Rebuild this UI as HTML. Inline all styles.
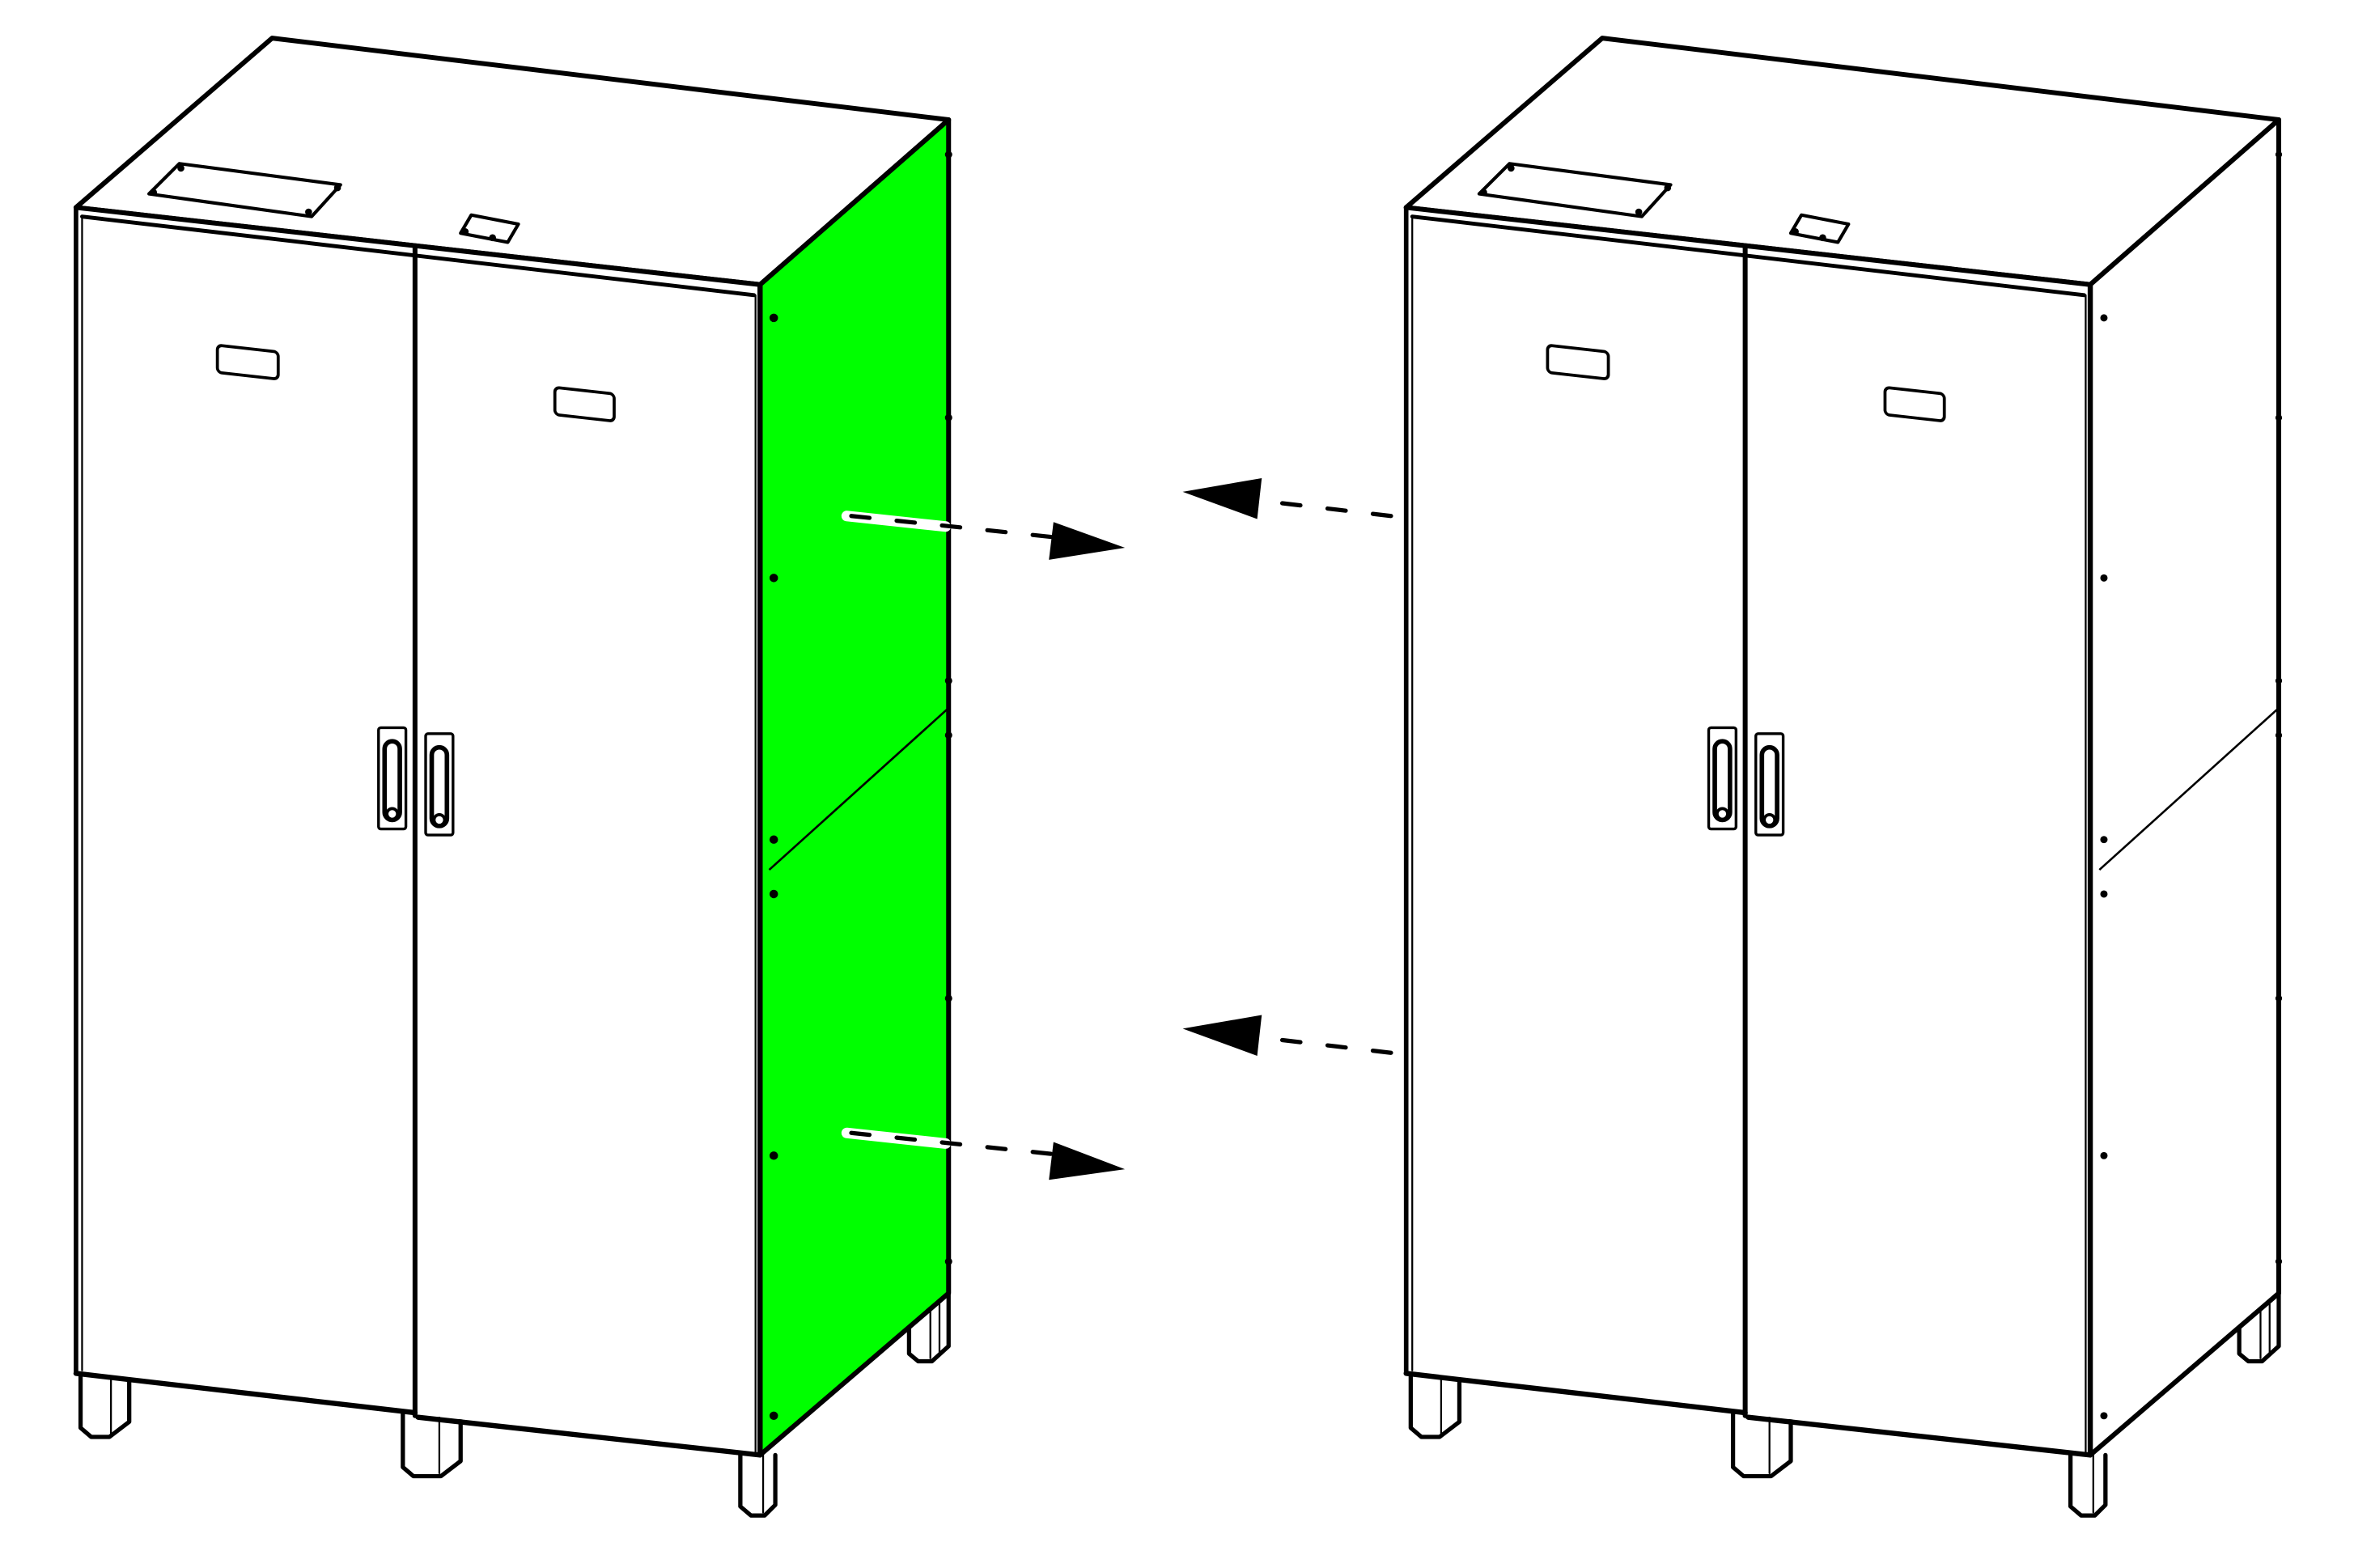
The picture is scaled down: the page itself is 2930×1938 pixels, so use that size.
<!DOCTYPE html>
<html><head><meta charset="utf-8"><style>html,body{margin:0;padding:0;background:#fff}svg{display:block}</style></head>
<body>
<svg width="2930" height="1938" viewBox="0 0 1555 1028.6" preserveAspectRatio="none" xmlns="http://www.w3.org/2000/svg">
<defs>
<g id="cab" stroke="#000" stroke-linejoin="round" stroke-linecap="round">
  <g fill="#fff" stroke-width="2.8">
    <path d="M598,862 V895 L604,900 H613 L624,890 V855"/>
    <line x1="612" y1="866" x2="612" y2="898" stroke-width="1.2"/>
    <line x1="618" y1="862" x2="618" y2="894" stroke-width="1.2"/>
    <path d="M53,908 V944 L60,950 H72 L85,940 V912"/>
    <line x1="73" y1="912" x2="73" y2="948" stroke-width="1.2"/>
    <path d="M265,934 V970 L272,976 H290 L303,966 V937"/>
    <line x1="289" y1="937" x2="289" y2="974" stroke-width="1.2"/>
    <path d="M487,960 V996 L494,1002 H503 L510,995 V962"/>
    <line x1="502" y1="962" x2="502" y2="1000" stroke-width="1.2"/>
  </g>
  <polygon points="179,25 624,79 500,188 50,137" fill="#fff" stroke-width="3.2"/>
  <polygon points="118,108 224,122 205,143 98,128" fill="#fff" stroke-width="2.2"/>
  <circle cx="119" cy="111" r="2.3" fill="#000" stroke="none"/>
  <circle cx="222" cy="124" r="2.3" fill="#000" stroke="none"/>
  <circle cx="203" cy="140" r="2.3" fill="#000" stroke="none"/>
  <circle cx="101" cy="127" r="2.3" fill="#000" stroke="none"/>
  <polygon points="310,142 341,148 334,160 303,154" fill="#fff" stroke-width="2.2"/>
  <circle cx="306" cy="153" r="2.3" fill="#000" stroke="none"/>
  <circle cx="324" cy="157" r="2.3" fill="#000" stroke="none"/>
  <polygon points="50,137 500,188 500,962 50,908" fill="#fff" stroke="none"/>
  <line x1="50" y1="137" x2="50" y2="908" stroke-width="3"/>
  <line x1="54" y1="143" x2="54" y2="906" stroke-width="1.2"/>
  <line x1="50" y1="137" x2="500" y2="188" stroke-width="3.2"/>
  <line x1="54" y1="143" x2="496" y2="195" stroke-width="2.6"/>
  <line x1="497" y1="195" x2="497" y2="960" stroke-width="1.2"/>
  <line x1="500" y1="188" x2="500" y2="962" stroke-width="3"/>
  <line x1="273" y1="163" x2="273" y2="936" stroke-width="3.2"/>
  <polyline points="50,908 273,934" fill="none" stroke-width="3.4"/>
  <polyline points="275,937 500,962" fill="none" stroke-width="3.4"/>
  <rect x="143" y="228" width="40" height="18" rx="3" fill="#fff" stroke-width="2" transform="skewY(6.4) translate(0,-16)"/>
  <rect x="365" y="256" width="39" height="18" rx="3" fill="#fff" stroke-width="2" transform="skewY(6.4) translate(0,-41)"/>
  <g fill="#fff">
    <rect x="249" y="481" width="18" height="67" rx="1.5" stroke-width="1.8"/>
    <rect x="253" y="490" width="10" height="52" rx="5" stroke-width="3"/>
    <circle cx="258" cy="538" r="3.5" stroke-width="2"/>
    <rect x="280" y="485" width="18" height="67" rx="1.5" stroke-width="1.8"/>
    <rect x="284" y="494" width="10" height="52" rx="5" stroke-width="3"/>
    <circle cx="289" cy="542" r="3.5" stroke-width="2"/>
  </g>
</g>
</defs>

<g transform="translate(0,25) scale(0.997,0.992) translate(0,-25)">
<use href="#cab"/>
<polygon points="500,188 624,79 624,855 500,962" fill="#00ff00" stroke="#000" stroke-width="3.2" stroke-linejoin="round"/>
<line x1="506" y1="575" x2="624" y2="468" stroke="#000" stroke-width="1.4"/>
<line x1="500" y1="188" x2="500" y2="962" stroke="#000" stroke-width="3.4"/>
<g fill="#000">
  <circle cx="509" cy="210" r="2.8"/><circle cx="509" cy="382" r="2.8"/><circle cx="509" cy="555" r="2.8"/>
  <circle cx="509" cy="591" r="2.8"/><circle cx="509" cy="764" r="2.8"/><circle cx="509" cy="936" r="2.8"/>
  <circle cx="624" cy="102" r="2.4"/><circle cx="624" cy="276" r="2.4"/><circle cx="624" cy="450" r="2.4"/>
  <circle cx="624" cy="486" r="2.4"/><circle cx="624" cy="660" r="2.4"/><circle cx="624" cy="834" r="2.4"/>
</g>

<g transform="translate(875,0)">
<use href="#cab"/>
<polygon points="500,188 624,79 624,855 500,962" fill="#fff" stroke="#000" stroke-width="3.2" stroke-linejoin="round"/>
<line x1="506" y1="575" x2="624" y2="468" stroke="#000" stroke-width="1.4"/>
<line x1="500" y1="188" x2="500" y2="962" stroke="#000" stroke-width="3.4"/>
<g fill="#000">
  <circle cx="509" cy="210" r="2.4"/><circle cx="509" cy="382" r="2.4"/><circle cx="509" cy="555" r="2.4"/>
  <circle cx="509" cy="591" r="2.4"/><circle cx="509" cy="764" r="2.4"/><circle cx="509" cy="936" r="2.4"/>
  <circle cx="624" cy="102" r="2.2"/><circle cx="624" cy="276" r="2.2"/><circle cx="624" cy="450" r="2.2"/>
  <circle cx="624" cy="486" r="2.2"/><circle cx="624" cy="660" r="2.2"/><circle cx="624" cy="834" r="2.2"/>
</g>
</g>

<g stroke-linecap="round">
  <line x1="557" y1="341" x2="622" y2="348" stroke="#fff" stroke-width="7"/>
  <line x1="557" y1="749" x2="622" y2="756" stroke="#fff" stroke-width="7"/>
  <line x1="560" y1="341" x2="693" y2="355" stroke="#000" stroke-width="2.8" stroke-dasharray="12,18"/>
  <line x1="560" y1="749" x2="693" y2="763" stroke="#000" stroke-width="2.8" stroke-dasharray="12,18"/>
  <line x1="915" y1="341" x2="830" y2="331" stroke="#000" stroke-width="2.8" stroke-dasharray="12,18"/>
  <line x1="915" y1="696" x2="830" y2="686" stroke="#000" stroke-width="2.8" stroke-dasharray="12,18"/>
</g>
<g fill="#000">
  <polygon points="740,362 693,345 690,370"/>
  <polygon points="740,773 693,755 690,780"/>
  <polygon points="778,325 830,316 827,343"/>
  <polygon points="778,680 830,671 827,698"/>
</g>
</g>
</svg>
</body></html>
